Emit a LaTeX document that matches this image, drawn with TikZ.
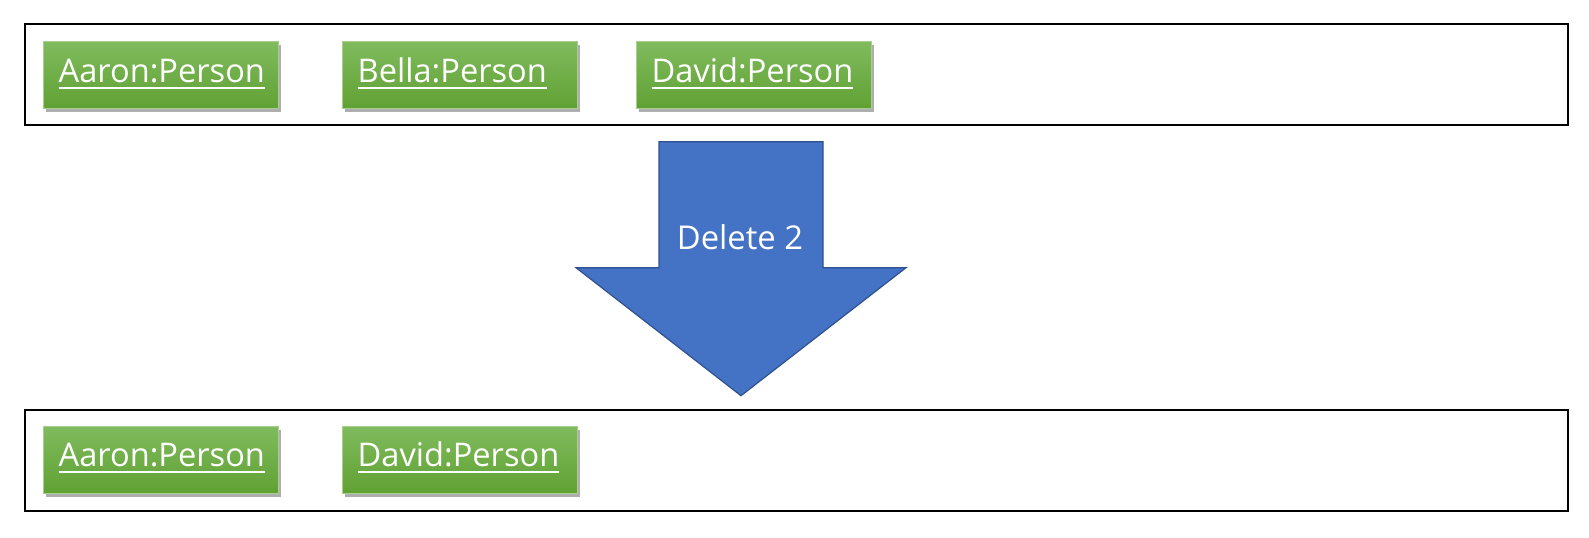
\documentclass[tikz,border=0pt]{standalone}
\usepackage{fontspec}
\setmainfont{Open Sans}
\usetikzlibrary{shadows}
\definecolor{gtop}{HTML}{80BB5E}
\definecolor{gbot}{HTML}{60A133}
\definecolor{gborder}{HTML}{A9CF8F}
\definecolor{afill}{HTML}{4472C4}
\definecolor{adraw}{HTML}{2F528F}
\newcommand\pul[1]{\setbox0\hbox{#1}\rlap{\rule[-3.3pt]{\wd0}{1pt}}\box0}
\begin{document}
\begin{tikzpicture}[x=0.5pt,y=-0.5pt]
\useasboundingbox (0,0) rectangle (1589,537);
\tikzset{
  frame/.style={draw=black, line width=1pt},
  person/.style={rectangle, minimum width=117.5pt, minimum height=33.5pt, inner ysep=0pt,
    inner xsep=7.6pt, text width=102.3pt, align=left,
    top color=gtop, bottom color=gbot, draw=gborder, line width=0.5pt,
    text=white, font=\fontsize{16.3}{19}\selectfont, text height=9.5pt, text depth=2.3pt,
    drop shadow={shadow xshift=1.2pt, shadow yshift=-1.8pt, opacity=0.45, fill=black!70}},
  bigarrow/.style={fill=afill, draw=adraw, line width=0.6pt},
  arrowtext/.style={text=white, font=\fontsize{16.4}{19}\selectfont, inner sep=0pt, anchor=base}
}
% frames
\draw[frame] (25.3,23.5) rectangle (1568,124.5);
\draw[frame] (25.3,410) rectangle (1568,511);
% top row
\node[person] (a1) at (161,75) {\pul{Aaron:Person}};
\node[person] (b1) at (460,75) {\pul{Bella:Person}};
\node[person] (d1) at (754,75) {\pul{David:Person}};
% bottom row
\node[person] (a2) at (161,459.5) {\pul{Aaron:Person}};
\node[person] (d2) at (460,459.5) {\pul{David:Person}};
% arrow
\draw[bigarrow] (659,141.7) -- (823,141.7) -- (823,267.7) -- (906,267.7) -- (741,395.7) -- (576,267.7) -- (659,267.7) -- cycle;
\node[arrowtext] (lbl) at (740,249.3) {Delete 2};
\end{tikzpicture}
\end{document}
